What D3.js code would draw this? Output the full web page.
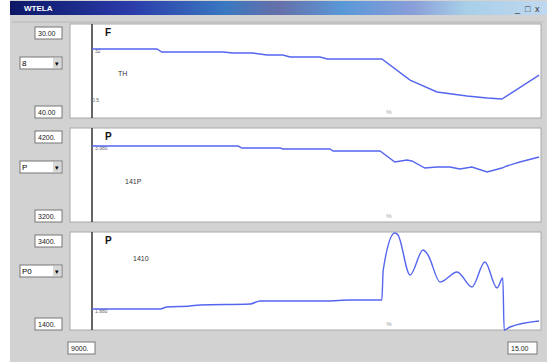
<!DOCTYPE html>
<html>
<head>
<meta charset="utf-8">
<script src="https://cdn.jsdelivr.net/npm/d3@7"></script>
<style>
  body { margin: 0; background: #ffffff; }
  svg { display: block; font-family: "Liberation Sans", Arial, sans-serif; }
</style>
</head>
<body>
<div id="chart"></div>
<script>
// window / labels
var windowTitle = "WTELA"
var panelNames = ["F", "P", "P"]
var panelTags = ["TH", "141P", "1410"]
var comboLabels = ["8", "P", "P0"]
var topLabels = ["30.00", "4200.", "3400."]
var bottomLabels = ["40.00", "3200.", "1400."]
var startLabels = ["32", "3.980", "1.880"]
var xStartLabel = "9000."
var xEndLabel = "15.00"

// value at top / bottom of each panel
var yTop = [30, 4200, 3400]
var yBottom = [40, 3200, 1400]

// panel 1 (F)
var fTime  = [0, 14.5, 15.6, 29.2, 31.5, 35.9, 39.1, 42.6, 44.2, 50.9, 52.5, 64.7, 71.0, 77.0, 83.7, 88.2, 91.5, 94.0, 99.8]
var fValue = [32.66, 32.66, 32.98, 32.98, 33.09, 33.09, 33.30, 33.30, 33.51, 33.51, 33.72, 33.72, 35.96, 37.23, 37.66, 37.87, 37.98, 37.23, 35.43]

// panel 2 (P)
var pTime  = [0, 32.6, 33.5, 42.0, 42.6, 53.1, 53.8, 64.3, 67.6, 70.3, 71.4, 74.3, 77.0, 79.9, 82.1, 84.8, 88.2, 91.5, 92.6, 95.5, 99.8]
var pValue = [4008, 4008, 3987, 3987, 3977, 3977, 3955, 3955, 3838, 3860, 3849, 3774, 3785, 3785, 3764, 3785, 3732, 3774, 3796, 3838, 3891]

// panel 3 (P)
var qTime  = [0, 15.2, 16.7, 21.9, 24.1, 35.3, 37.5, 52.5, 57.6, 64.7, 65.0, 67.6, 68.3, 71.0, 73.9, 75.0, 77.7, 81.5, 84.8, 87.7, 90.4, 91.7, 92.0, 93.3, 99.8]
var qValue = [1828, 1828, 1869, 1890, 1910, 1931, 1992, 1992, 2012, 2012, 2624, 3380, 3339, 2522, 3033, 2931, 2380, 2584, 2278, 2788, 2257, 2461, 1400, 1461, 1584]

var series = [
    { time: fTime, value: fValue, curve: d3.curveLinear },
    { time: pTime, value: pValue, curve: d3.curveLinear },
    { time: qTime, value: qValue, curve: d3.curveMonotoneX }
]

var width = 547
var height = 362

var svg = d3.select("#chart")
    .append("svg")
    .attr("width", width)
    .attr("height", height)

// window body
svg.append("rect")
    .attr("x", 10).attr("y", 0)
    .attr("width", width - 10).attr("height", height)
    .attr("fill", "#d2d2d2")

// title bar
var grad = svg.append("defs").append("linearGradient")
    .attr("id", "title").attr("x1", 0).attr("x2", 1)
grad.append("stop").attr("offset", 0).attr("stop-color", "#0c1866")
grad.append("stop").attr("offset", 0.22).attr("stop-color", "#2a3aa8")
grad.append("stop").attr("offset", 0.4).attr("stop-color", "#3a78c0")
grad.append("stop").attr("offset", 0.5).attr("stop-color", "#6670a8")
grad.append("stop").attr("offset", 0.62).attr("stop-color", "#5a98d8")
grad.append("stop").attr("offset", 0.75).attr("stop-color", "#8a9ed8")
grad.append("stop").attr("offset", 0.85).attr("stop-color", "#a8d0e8")
grad.append("stop").attr("offset", 1).attr("stop-color", "#c0d8f0")

svg.append("rect")
    .attr("x", 10).attr("y", 1)
    .attr("width", width - 10).attr("height", 14)
    .attr("fill", "url(#title)")

svg.append("text")
    .attr("x", 24).attr("y", 11)
    .attr("fill", "#ffffff")
    .style("font-size", "8px").style("font-weight", "bold")
    .text(windowTitle)

// title buttons
var btns = ["_", "□", "x"]
svg.selectAll(".btn")
    .data(btns)
    .enter()
    .append("text")
    .attr("x", (d, i) => 515 + i * 10)
    .attr("y", 12)
    .attr("fill", "#333")
    .style("font-size", "9px")
    .text(d => d)

// toolbar strip
svg.append("line")
    .attr("x1", 12).attr("x2", width - 4)
    .attr("y1", 22).attr("y2", 22)
    .attr("stroke", "#b8b8b8")

var x = d3.scaleLinear()
    .domain([0, 100])
    .range([92, 540])

var panelTops = [24, 128, 232]
var panelBottoms = [118, 222, 330]

var inputBox = (bx, by, w, label) => {
    svg.append("rect")
        .attr("x", bx).attr("y", by)
        .attr("width", w).attr("height", 12)
        .attr("fill", "#ffffff")
        .attr("stroke", "#777").attr("stroke-width", 1)
    svg.append("text")
        .attr("x", bx + 3).attr("y", by + 9)
        .attr("fill", "#222")
        .style("font-size", "7px")
        .text(label)
}

series.forEach((s, i) => {
    var top = panelTops[i]
    var bottom = panelBottoms[i]

    var y = d3.scaleLinear()
        .domain([yTop[i], yBottom[i]])
        .range([top, bottom])

    // white plot area
    svg.append("rect")
        .attr("x", 70).attr("y", top)
        .attr("width", 471).attr("height", bottom - top)
        .attr("fill", "#ffffff")
        .attr("stroke", "#a8a8a8")

    // left axis line
    svg.append("line")
        .attr("x1", x(0)).attr("x2", x(0))
        .attr("y1", top).attr("y2", bottom)
        .attr("stroke", "#333").attr("stroke-width", 1.5)

    // left controls
    inputBox(35, top + 3, 27, topLabels[i])
    inputBox(35, bottom - 12, 27, bottomLabels[i])

    svg.append("rect")
        .attr("x", 20).attr("y", top + 33)
        .attr("width", 42).attr("height", 12)
        .attr("fill", "#ffffff")
        .attr("stroke", "#777")
    svg.append("rect")
        .attr("x", 53).attr("y", top + 34)
        .attr("width", 8).attr("height", 10)
        .attr("fill", "#d8d8d8")
    svg.append("text")
        .attr("x", 57).attr("y", top + 42)
        .attr("text-anchor", "middle")
        .style("font-size", "7px")
        .text("▾")
    svg.append("text")
        .attr("x", 22).attr("y", top + 42)
        .style("font-size", "8px")
        .text(comboLabels[i])

    // panel letter and tag
    svg.append("text")
        .attr("x", 105).attr("y", top + 12)
        .style("font-size", "10px").style("font-weight", "bold")
        .attr("fill", "#111")
        .text(panelNames[i])

    var tagPos = [[118, 76], [125, 184], [133, 261]]
    svg.append("text")
        .attr("x", tagPos[i][0]).attr("y", tagPos[i][1])
        .style("font-size", "7px")
        .attr("fill", "#333")
        .text(panelTags[i])

    svg.append("text")
        .attr("x", x(0) + 3).attr("y", y(series[i].value[0]) + 4)
        .style("font-size", "5px")
        .attr("fill", "#666")
        .text(startLabels[i])

    // cursor marker
    svg.append("text")
        .attr("x", 389).attr("y", bottom - 4)
        .attr("text-anchor", "middle")
        .style("font-size", "6px")
        .attr("fill", "#999")
        .text("%")

    var line = d3.line()
        .x((d, j) => x(s.time[j]))
        .y(d => y(d))
        .curve(s.curve)

    svg.append("path")
        .datum(s.value)
        .attr("d", line)
        .attr("fill", "none")
        .attr("stroke", "#5566ee")
        .attr("stroke-width", 1.4)
})

svg.append("text")
    .attr("x", 92).attr("y", 102)
    .style("font-size", "5px")
    .attr("fill", "#666")
    .text("0.5")

// bottom time boxes
inputBox(68, 342, 27, xStartLabel)
inputBox(508, 342, 29, xEndLabel)
</script>
</body>
</html>
